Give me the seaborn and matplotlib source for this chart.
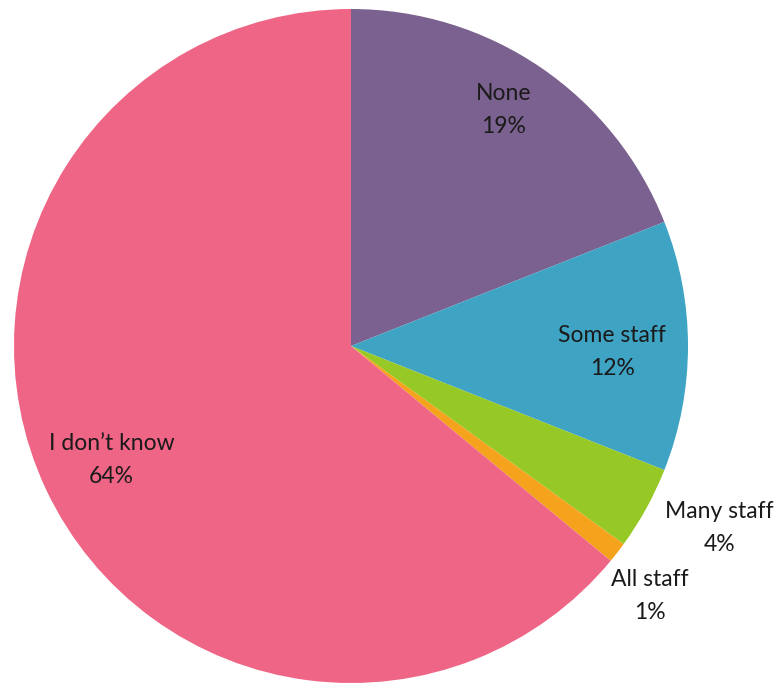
import numpy as np
import matplotlib
matplotlib.use("Agg")
import matplotlib.pyplot as plt
import matplotlib.transforms as mtransforms
import seaborn as sns

# Survey responses, clockwise from 12 o'clock
categories = ["None", "Some staff", "Many staff", "All staff", "I don\u2019t know"]
shares = [19, 12, 4, 1, 64]
colors = ["#7B618F", "#3FA3C4", "#96C826", "#F5A21C", "#EF6585"]
# radial position of each label, as a fraction of the pie radius
label_dist = [0.85, 0.775, 1.21, 1.145, 0.78]
label_shift = [2.0, 0.0, 3.3, -1.4, -0.9]  # degrees around the pie

sns.set_theme(style="white")
plt.rcParams["font.family"] = ["Lato", "DejaVu Sans"]

fig = plt.figure(figsize=(7.8, 6.86), dpi=100)
ax = fig.add_axes([14 / 780, 3 / 686, 674 / 780, 674 / 686])

palette = sns.color_palette(colors)
wedges, _ = ax.pie(shares, colors=palette, startangle=90, counterclock=False,
                   radius=1.0, wedgeprops=dict(linewidth=0))

# nudge the two-line labels slightly downward so they sit on their anchor
label_tf = mtransforms.offset_copy(ax.transData, fig=fig, x=0, y=-4.5, units="points")
for w, name, val, d, s in zip(wedges, categories, shares, label_dist, label_shift):
    mid = np.deg2rad((w.theta1 + w.theta2) / 2 + s)
    ax.text(d * np.cos(mid), d * np.sin(mid), f"{name}\n{val}%",
            transform=label_tf, ha="center", va="center", fontsize=16.5,
            color="#1a1a1a", linespacing=1.7)

ax.set_xlim(-1, 1)
ax.set_ylim(-1, 1)
ax.set_aspect("equal")
ax.axis("off")

fig.savefig("out.png", dpi=100, facecolor="white")
